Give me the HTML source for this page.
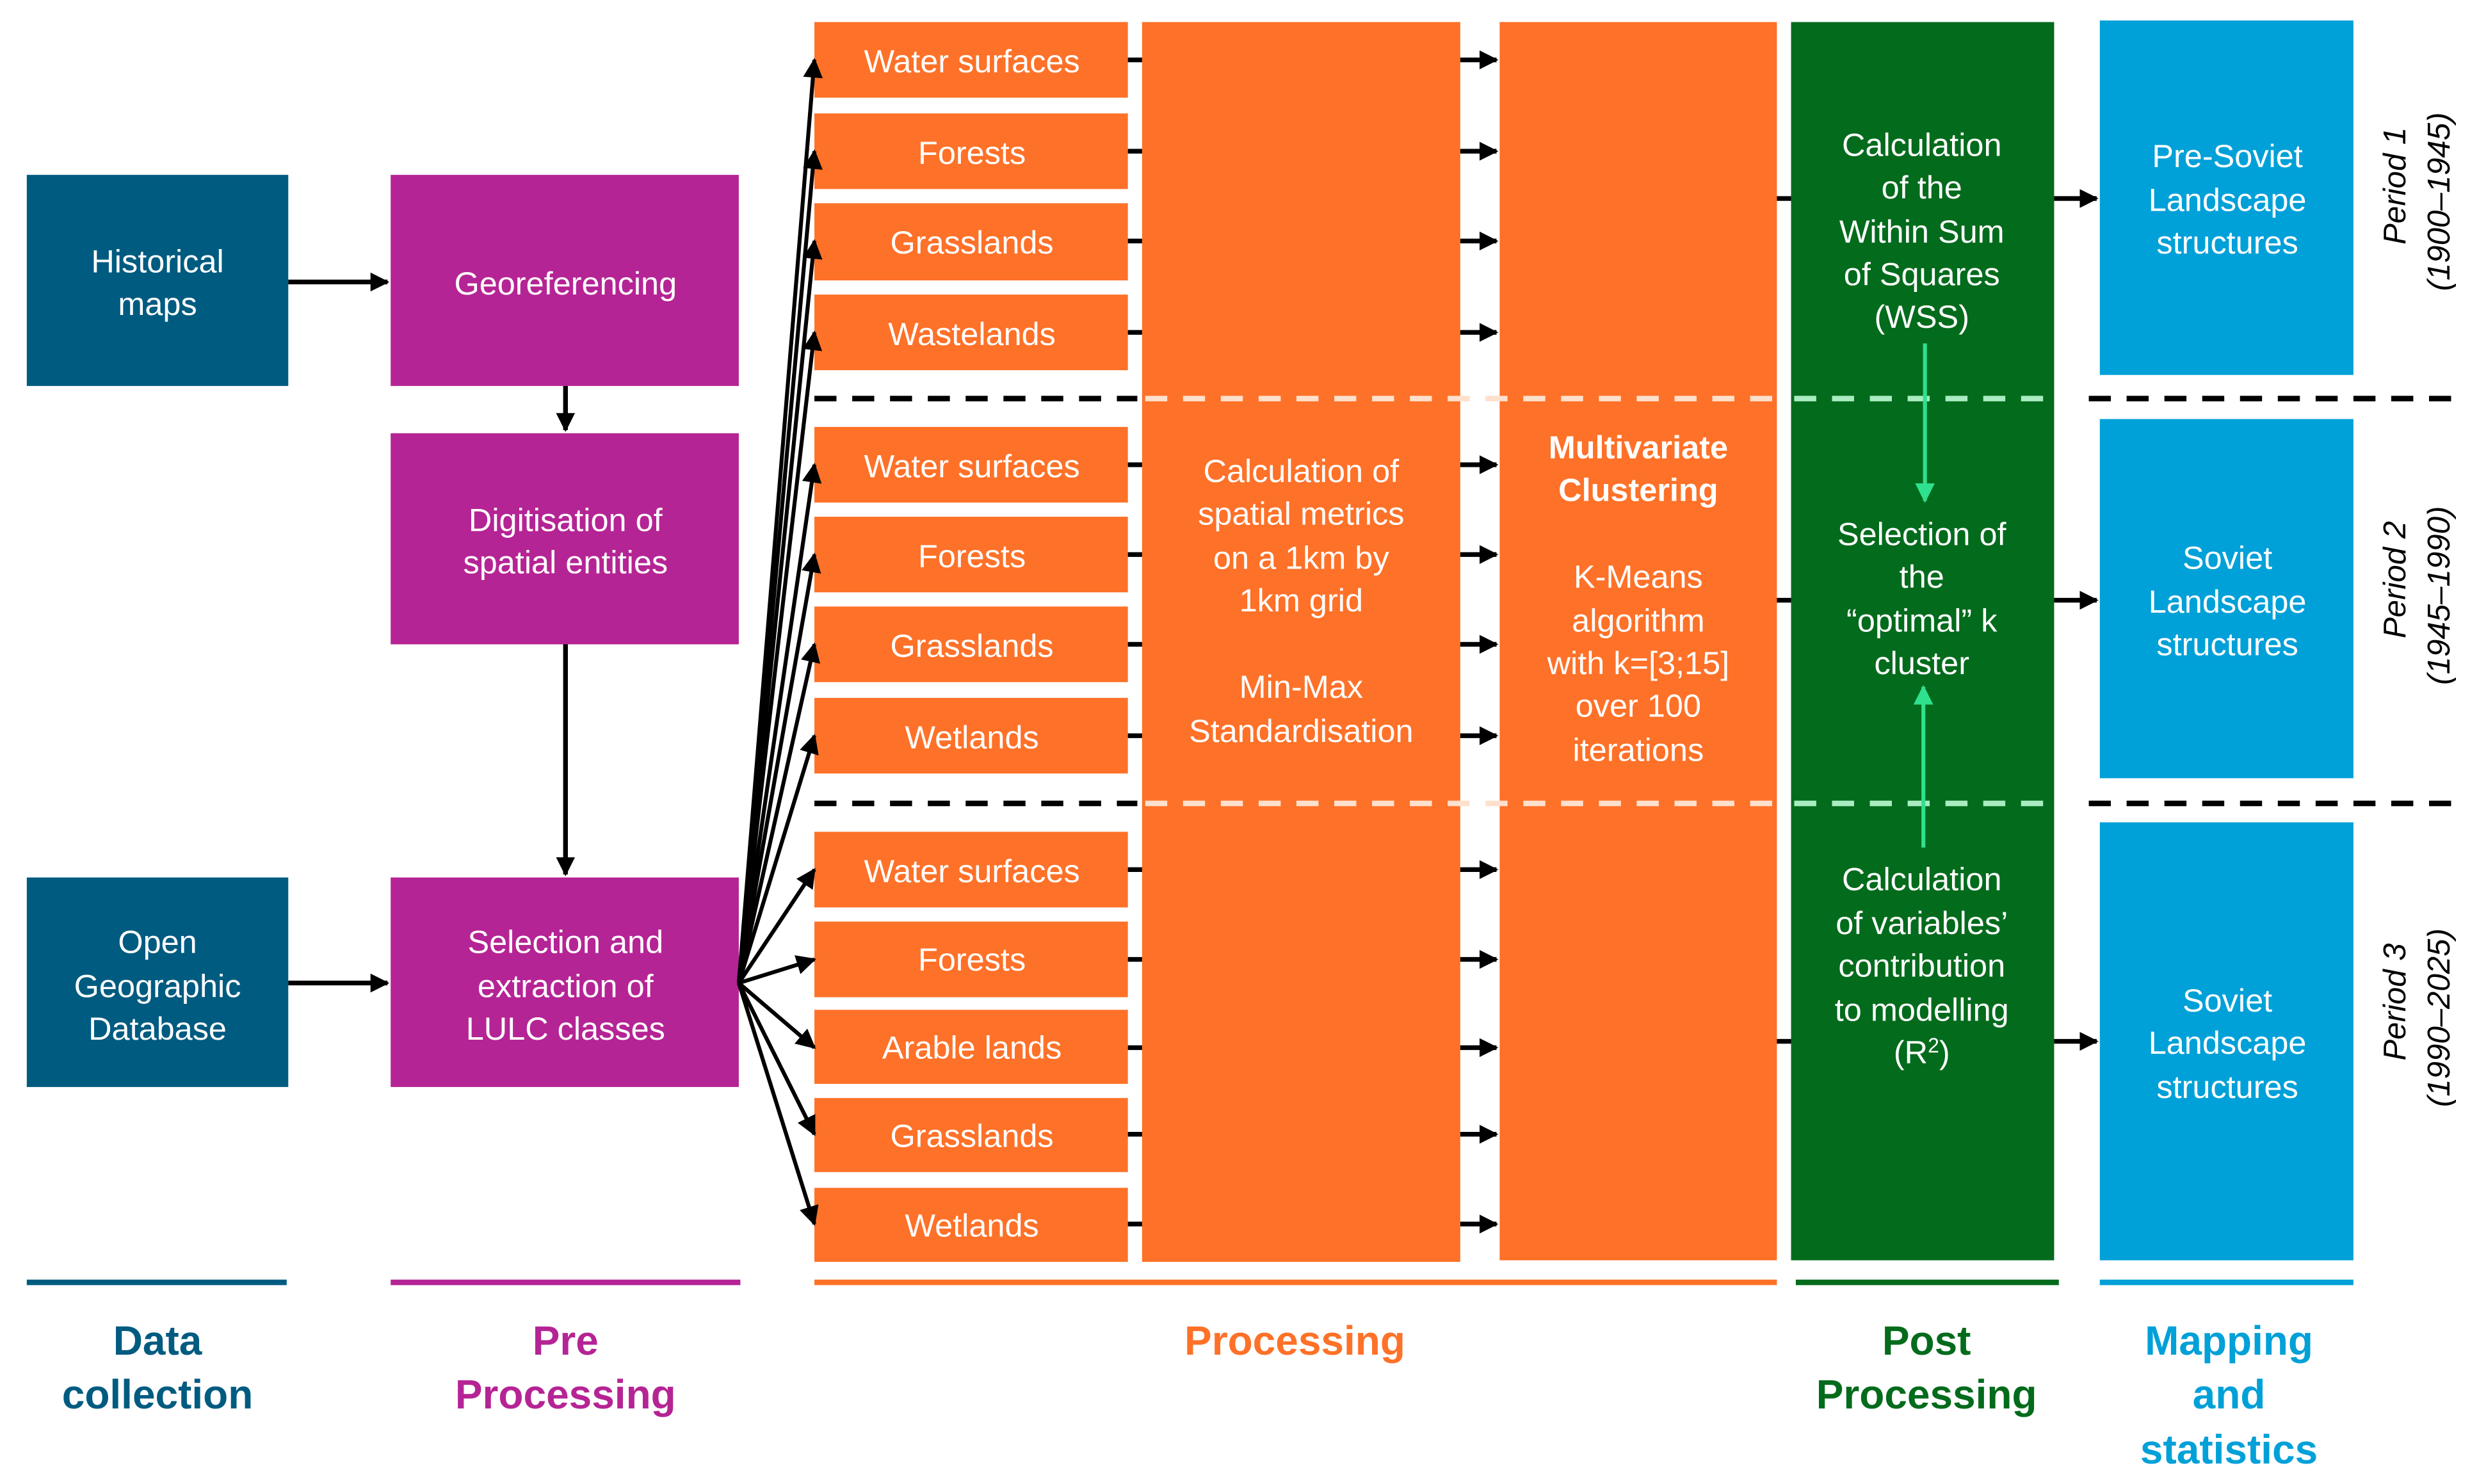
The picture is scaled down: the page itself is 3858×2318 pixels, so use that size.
<!DOCTYPE html>
<html><head><meta charset="utf-8"><style>
html,body{margin:0;padding:0;background:#fff;}
svg{display:block;}
text{font-family:"Liberation Sans",Arial,sans-serif;}
</style></head><body>
<svg width="3858" height="2318" viewBox="0 0 1568 942" preserveAspectRatio="none" xmlns="http://www.w3.org/2000/svg">
<defs>
<marker id="ah" viewBox="0 0 10 10" refX="9" refY="5" markerWidth="4" markerHeight="4" orient="auto" markerUnits="strokeWidth"><path d="M0,0 L10,5 L0,10 z" fill="#000"/></marker>
<marker id="ah2" viewBox="0 0 10 10" refX="9" refY="5" markerWidth="5" markerHeight="5" orient="auto" markerUnits="strokeWidth"><path d="M0,0 L10,5 L0,10 z" fill="#000"/></marker>
<marker id="ag" viewBox="0 0 10 10" refX="9" refY="5" markerWidth="5" markerHeight="5" orient="auto" markerUnits="strokeWidth"><path d="M0,0 L10,5 L0,10 z" fill="#2fe08e"/></marker>
</defs>
<g fill="#fff" font-size="20.5" text-anchor="middle">
<rect x="17" y="111" width="166" height="134" fill="#005B80"/>
<text x="100" y="173">Historical</text><text x="100" y="200">maps</text>
<rect x="17" y="557" width="166" height="133" fill="#005B80"/>
<text x="100" y="605">Open</text><text x="100" y="633">Geographic</text><text x="100" y="660">Database</text>
<rect x="248" y="111" width="221" height="134" fill="#B52495"/>
<text x="359" y="187">Georeferencing</text>
<rect x="248" y="275" width="221" height="134" fill="#B52495"/>
<text x="359" y="337">Digitisation of</text><text x="359" y="364">spatial entities</text>
<rect x="248" y="557" width="221" height="133" fill="#B52495"/>
<text x="359" y="605">Selection and</text><text x="359" y="633">extraction of</text><text x="359" y="660">LULC classes</text>
<g fill="#FE7128">
<rect x="517" y="14" width="199" height="48"/><rect x="517" y="72" width="199" height="48"/>
<rect x="517" y="129" width="199" height="49"/><rect x="517" y="187" width="199" height="48"/>
<rect x="517" y="271" width="199" height="48"/><rect x="517" y="328" width="199" height="48"/>
<rect x="517" y="385" width="199" height="48"/><rect x="517" y="443" width="199" height="48"/>
<rect x="517" y="528" width="199" height="48"/><rect x="517" y="585" width="199" height="48"/>
<rect x="517" y="641" width="199" height="47"/><rect x="517" y="697" width="199" height="47"/>
<rect x="517" y="754" width="199" height="47"/>
<rect x="725" y="14" width="202" height="787"/>
<rect x="952" y="14" width="176" height="786"/>
</g>
<text x="617" y="46">Water surfaces</text><text x="617" y="104">Forests</text>
<text x="617" y="161">Grasslands</text><text x="617" y="219">Wastelands</text>
<text x="617" y="303">Water surfaces</text><text x="617" y="360">Forests</text>
<text x="617" y="417">Grasslands</text><text x="617" y="475">Wetlands</text>
<text x="617" y="560">Water surfaces</text><text x="617" y="616">Forests</text>
<text x="617" y="672">Arable lands</text><text x="617" y="728">Grasslands</text>
<text x="617" y="785">Wetlands</text>
<text x="826" y="306">Calculation of</text><text x="826" y="333">spatial metrics</text>
<text x="826" y="361">on a 1km by</text><text x="826" y="388">1km grid</text>
<text x="826" y="443">Min-Max</text><text x="826" y="471">Standardisation</text>
<text x="1040" y="291" font-weight="bold">Multivariate</text><text x="1040" y="318" font-weight="bold">Clustering</text>
<text x="1040" y="373">K-Means</text><text x="1040" y="401">algorithm</text>
<text x="1040" y="428">with k=[3;15]</text><text x="1040" y="455">over 100</text><text x="1040" y="483">iterations</text>
<rect x="1137" y="14" width="167" height="786" fill="#036B1C"/>
<text x="1220" y="99">Calculation</text><text x="1220" y="126">of the</text><text x="1220" y="154">Within Sum</text>
<text x="1220" y="181">of Squares</text><text x="1220" y="208">(WSS)</text>
<text x="1220" y="346">Selection of</text><text x="1220" y="373">the</text><text x="1220" y="401">“optimal” k</text><text x="1220" y="428">cluster</text>
<text x="1220" y="565">Calculation</text><text x="1220" y="593">of variables’</text><text x="1220" y="620">contribution</text>
<text x="1220" y="648">to modelling</text><text x="1220" y="675">(R<tspan font-size="13" dy="-7">2</tspan><tspan dy="7">)</tspan></text>
<rect x="1333" y="13" width="161" height="225" fill="#00A0D8"/>
<rect x="1333" y="266" width="161" height="228" fill="#00A0D8"/>
<rect x="1333" y="522" width="161" height="278" fill="#00A0D8"/>
<text x="1414" y="106">Pre-Soviet</text><text x="1414" y="134">Landscape</text><text x="1414" y="161">structures</text>
<text x="1414" y="361">Soviet</text><text x="1414" y="389">Landscape</text><text x="1414" y="416">structures</text>
<text x="1414" y="642">Soviet</text><text x="1414" y="669">Landscape</text><text x="1414" y="697">structures</text>
</g>
<g font-size="20" font-style="italic" fill="#000" text-anchor="middle">
<text transform="translate(1527,118) rotate(-90)">Period 1</text>
<text transform="translate(1555,128) rotate(-90)">(1900–1945)</text>
<text transform="translate(1527,368) rotate(-90)">Period 2</text>
<text transform="translate(1555,378) rotate(-90)">(1945–1990)</text>
<text transform="translate(1527,636) rotate(-90)">Period 3</text>
<text transform="translate(1555,646) rotate(-90)">(1990–2025)</text>
</g>
<g stroke-width="3.5" stroke-dasharray="14,10">
<path d="M517 253 H722 M517 510 H722 M1326 253 H1562 M1326 510 H1562" stroke="#000"/>
<path d="M727 253 H1128 M727 510 H1128" stroke="#FFE0CC"/>
<path d="M1139 253 H1304 M1139 510 H1304" stroke="#A8ECC0"/>
</g>
<g stroke="#000" stroke-width="3" fill="none" marker-end="url(#ah)">
<path d="M183 179 H246"/>
<path d="M183 624 H246"/>
<path d="M359 245 V273"/>
<path d="M359 409 V555"/>
</g>
<g stroke="#000" stroke-width="2.5" fill="none" marker-end="url(#ah2)">
<path d="M469 624 L517 38"/><path d="M469 624 L517 96"/>
<path d="M469 624 L517 153"/><path d="M469 624 L517 211"/>
<path d="M469 624 L517 295"/><path d="M469 624 L517 352"/>
<path d="M469 624 L517 409"/><path d="M469 624 L517 467"/>
<path d="M469 624 L517 552"/><path d="M469 624 L517 609"/>
<path d="M469 624 L517 665"/><path d="M469 624 L517 720"/>
<path d="M469 624 L517 777"/>
</g>
<g stroke="#000" stroke-width="3" fill="none">
<path d="M716 38H725M716 96H725M716 153H725M716 211H725M716 295H725M716 352H725M716 409H725M716 467H725M716 552H725M716 609H725M716 665H725M716 720H725M716 777H725"/>
<path d="M1128 126H1137M1128 381H1137M1128 661H1137"/>
</g>
<g stroke="#000" stroke-width="3" fill="none" marker-end="url(#ah)">
<path d="M927 38H950"/><path d="M927 96H950"/><path d="M927 153H950"/><path d="M927 211H950"/>
<path d="M927 295H950"/><path d="M927 352H950"/><path d="M927 409H950"/><path d="M927 467H950"/>
<path d="M927 552H950"/><path d="M927 609H950"/><path d="M927 665H950"/><path d="M927 720H950"/><path d="M927 777H950"/>
<path d="M1304 126H1331"/><path d="M1304 381H1331"/><path d="M1304 661H1331"/>
</g>
<g stroke="#2fe08e" stroke-width="2.5" fill="none" marker-end="url(#ag)">
<path d="M1222 218 V318"/>
<path d="M1221 538 V436"/>
</g>
<g stroke-width="3.5">
<path d="M17 814H182" stroke="#005B80"/><path d="M248 814H470" stroke="#B52495"/>
<path d="M517 814H1128" stroke="#FE7128"/><path d="M1140 814H1307" stroke="#036B1C"/>
<path d="M1333 814H1494" stroke="#00A0D8"/>
</g>
<g font-size="26" font-weight="bold" text-anchor="middle">
<text x="100" y="860" fill="#005B80">Data</text><text x="100" y="894" fill="#005B80">collection</text>
<text x="359" y="860" fill="#B52495">Pre</text><text x="359" y="894" fill="#B52495">Processing</text>
<text x="822" y="860" fill="#FE7128">Processing</text>
<text x="1223" y="860" fill="#036B1C">Post</text><text x="1223" y="894" fill="#036B1C">Processing</text>
<text x="1415" y="860" fill="#00A0D8">Mapping</text><text x="1415" y="894" fill="#00A0D8">and</text><text x="1415" y="929" fill="#00A0D8">statistics</text>
</g>
</svg>
</body></html>
